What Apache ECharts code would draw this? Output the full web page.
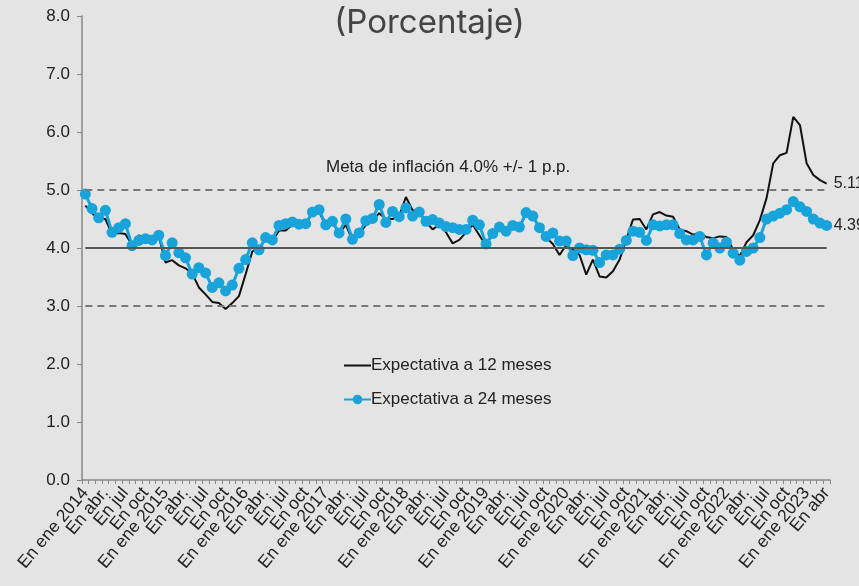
<!DOCTYPE html>
<html>
<head>
<meta charset="utf-8">
<script src="https://cdn.jsdelivr.net/npm/echarts@6/dist/echarts.min.js"></script>
<style>
html,body{margin:0;padding:0;background:#e4e4e4;}
#c{width:859px;height:586px;}
</style>
</head>
<body>
<div id="c"></div>
<script>
const monthNames = ['ene','feb','mar','abr','may','jun','jul','ago','sep','oct','nov','dic'];
const startYear = 2014;
const nMonths = 112;
const categories = [];
for (let i = 0; i < nMonths; i++) {
  const y = startYear + Math.floor(i / 12);
  const m = i % 12;
  categories.push(m === 0 ? 'En ene ' + y : (m === 3 ? (i === nMonths - 1 ? 'En abr' : 'En abr.') : 'En ' + monthNames[m]));
}

const exp12 = [
  4.73,4.60,4.50,4.50,4.24,4.26,4.24,4.05,4.22,4.15,4.15,4.20,
  3.75,3.79,3.70,3.65,3.56,3.32,3.20,3.07,3.05,2.95,3.05,3.17,
  3.55,3.94,4.00,4.15,4.12,4.30,4.30,4.40,4.40,4.42,4.60,4.63,
  4.38,4.44,4.25,4.40,4.13,4.24,4.40,4.47,4.60,4.50,4.50,4.55,
  4.88,4.65,4.62,4.45,4.32,4.40,4.27,4.08,4.14,4.27,4.40,4.22,
  4.04,4.25,4.35,4.28,4.38,4.36,4.58,4.55,4.35,4.18,4.07,3.88,
  4.05,3.97,3.88,3.54,3.80,3.51,3.49,3.60,3.80,4.15,4.49,4.50,
  4.32,4.58,4.62,4.56,4.54,4.32,4.29,4.23,4.26,4.19,4.17,4.20,
  4.19,3.97,3.86,4.10,4.22,4.48,4.86,5.46,5.60,5.64,6.26,6.12,
  5.46,5.26,5.17,5.11
];
const exp24 = [
  4.93,4.68,4.52,4.65,4.27,4.35,4.42,4.04,4.13,4.16,4.14,4.22,
  3.87,4.09,3.92,3.83,3.55,3.66,3.57,3.32,3.40,3.26,3.36,3.65,
  3.80,4.09,3.97,4.18,4.14,4.39,4.42,4.45,4.41,4.42,4.62,4.66,
  4.40,4.46,4.26,4.50,4.15,4.26,4.47,4.51,4.75,4.44,4.63,4.54,
  4.69,4.55,4.62,4.46,4.49,4.43,4.37,4.35,4.32,4.32,4.48,4.40,
  4.07,4.25,4.36,4.29,4.39,4.36,4.61,4.55,4.35,4.20,4.26,4.12,
  4.12,3.87,4.00,3.97,3.96,3.75,3.88,3.88,3.98,4.13,4.29,4.27,
  4.13,4.40,4.38,4.40,4.40,4.25,4.14,4.14,4.20,3.88,4.09,4.00,
  4.10,3.91,3.79,3.94,4.00,4.18,4.50,4.55,4.60,4.66,4.80,4.71,
  4.63,4.50,4.43,4.39
];
const targetCenter = 4.0;
const targetUpper = 5.0;
const targetLower = 3.0;
const yTicks = [0,1,2,3,4,5,6,7,8];

const FONT = 'Liberation Sans, Arial, sans-serif';
const last = nMonths - 1;
const labelBase = {
  showMinLabel: true, showMaxLabel: true, hideOverlap: false,
  rotate: 50, fontSize: 17.5, color: '#222', margin: 10
};
const chart = echarts.init(document.getElementById('c'));
chart.setOption({
  backgroundColor: '#e4e4e4',
  animation: false,
  textStyle: { fontFamily: FONT },
  title: {
    text: '(Porcentaje)',
    left: 'center',
    top: 2,
    textStyle: { fontFamily: 'Inter, Roboto, sans-serif', fontSize: 33, fontWeight: 'normal', color: '#444' }
  },
  legend: {
    orient: 'vertical',
    left: 338,
    top: 352,
    itemWidth: 27,
    itemHeight: 12,
    itemGap: 17,
    textStyle: { fontSize: 17, color: '#222', padding: [0,0,0,-5] },
    data: [
      { name: 'Expectativa a 12 meses', itemStyle: { color: 'rgba(0,0,0,0)', borderWidth: 0 } },
      { name: 'Expectativa a 24 meses' }
    ]
  },
  grid: { left: 82, right: 29, top: 16, bottom: 106 },
  xAxis: [
    {
      type: 'category',
      data: categories,
      boundaryGap: true,
      position: 'bottom',
      axisLine: { lineStyle: { color: '#888', width: 1.5 } },
      axisTick: { show: true, interval: 0, length: 4, lineStyle: { color: '#888' } },
      axisLabel: Object.assign({ interval: (idx) => idx % 6 === 0 }, labelBase)
    },
    {
      type: 'category',
      data: categories,
      boundaryGap: true,
      position: 'bottom',
      offset: 0,
      axisLine: { show: false },
      axisTick: { show: false },
      axisLabel: Object.assign({ interval: (idx) => idx % 6 === 3 }, labelBase)
    }
  ],
  yAxis: {
    type: 'value',
    min: yTicks[0],
    max: yTicks[yTicks.length - 1],
    interval: 1,
    splitLine: { show: false },
    axisLine: { show: true, lineStyle: { color: '#888', width: 1.5 } },
    axisTick: { show: true, length: 5, lineStyle: { color: '#888' } },
    axisLabel: { fontSize: 17, color: '#222', margin: 12, formatter: v => v.toFixed(1) }
  },
  series: [
    {
      name: 'Expectativa a 12 meses',
      type: 'line',
      xAxisIndex: 0,
      data: exp12,
      symbol: 'none',
      color: '#111',
      lineStyle: { color: '#111', width: 2 },
      z: 2,
      endLabel: { show: true, formatter: p => p.value.toFixed(2), fontSize: 16, color: '#222', distance: 7 },
      markLine: {
        silent: true,
        symbol: 'none',
        label: { show: false },
        data: [
          [{ coord: [0, targetUpper], lineStyle: { type: [7,5], color: '#777', width: 2 } }, { coord: [last, targetUpper] }],
          [{ coord: [0, targetLower], lineStyle: { type: [7,5], color: '#777', width: 2 } }, { coord: [last, targetLower] }],
          [{ coord: [0, targetCenter], lineStyle: { type: 'solid', color: '#555', width: 2 } }, { coord: [last, targetCenter] }]
        ]
      }
    },
    {
      name: 'Expectativa a 24 meses',
      type: 'line',
      xAxisIndex: 0,
      data: exp24,
      symbol: 'circle',
      symbolSize: 11,
      showAllSymbol: true,
      color: '#18a4da',
      lineStyle: { color: '#18a4da', width: 3 },
      itemStyle: { color: '#18a4da' },
      z: 3,
      endLabel: { show: true, formatter: p => p.value.toFixed(2), fontSize: 16, color: '#222', distance: 7 }
    }
  ],
  graphic: [
    {
      type: 'text',
      left: 326,
      top: 159,
      style: { text: 'Meta de inflación 4.0% +/- 1 p.p.', fontSize: 17, fill: '#222', fontFamily: FONT }
    }
  ]
});
</script>
</body>
</html>
